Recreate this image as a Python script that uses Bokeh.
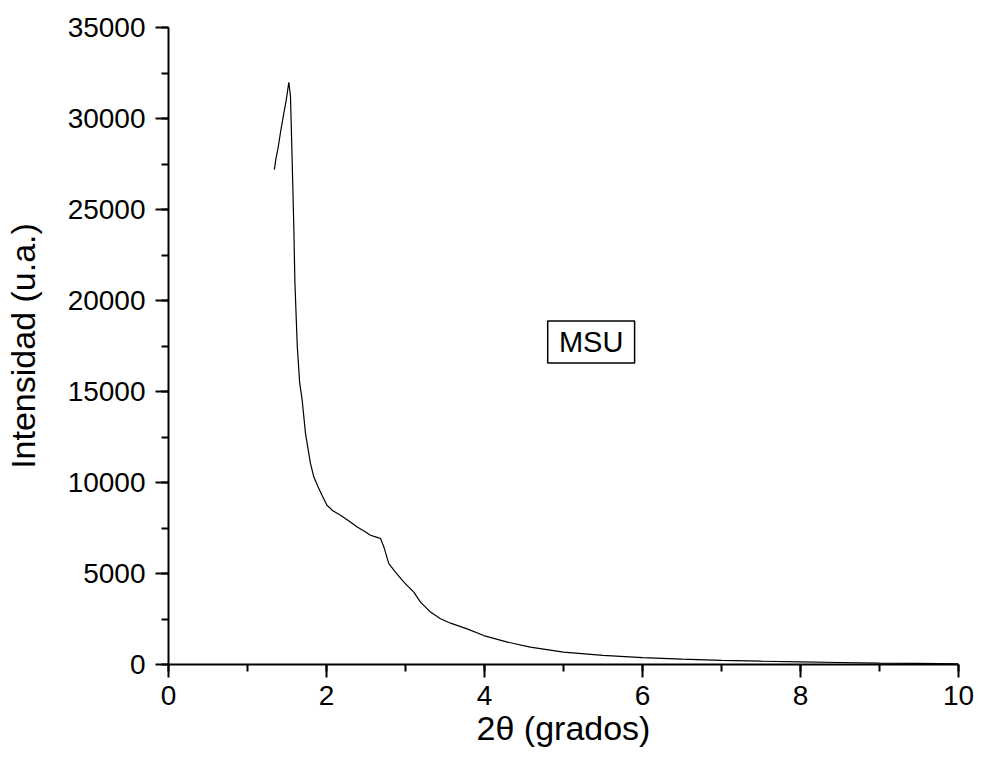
from bokeh.plotting import figure
from bokeh.models import Range1d, SingleIntervalTicker
from bokeh.embed import file_html
from bokeh.resources import INLINE
from bokeh.core.properties import value

# Data (2theta in degrees, intensity in a.u.)
two_theta = [1.34, 1.36, 1.385, 1.42, 1.46, 1.49, 1.523, 1.544, 1.565, 1.586,
             1.60, 1.63, 1.66, 1.692, 1.734, 1.797, 1.839, 1.90, 1.943, 2.006,
             2.08, 2.177, 2.28, 2.388, 2.47, 2.557, 2.63, 2.684, 2.726, 2.789,
             2.873, 2.979, 3.105, 3.19, 3.316, 3.443, 3.57, 3.78, 3.99, 4.29,
             4.58, 5.0, 5.5, 6.0, 6.5, 7.0, 7.5, 8.0, 8.5, 9.0, 9.5, 10.0]
intensity = [27190, 27800, 28330, 29300, 30300, 31000, 31990, 31230, 27740, 24070,
             21000, 17500, 15500, 14530, 12700, 11050, 10310, 9700, 9300, 8750,
             8450, 8200, 7900, 7560, 7350, 7100, 7000, 6920, 6460, 5540,
             5080, 4530, 3980, 3430, 2880, 2510, 2270, 1960, 1590, 1230,
             950, 680, 500, 380, 300, 230, 180, 140, 110, 80, 60, 40]

sample_label = "MSU"
x_title = "2\u03b8 (grados)"
y_title = "Intensidad (u.a.)"

FONT = "Liberation Sans"

p = figure(width=982, height=758, output_backend="svg", toolbar_location=None,
           x_range=Range1d(0, 10), y_range=Range1d(0, 35000),
           min_border_left=168, min_border_right=24, min_border_top=27,
           min_border_bottom=94)
p.outline_line_color = None
p.xgrid.visible = False
p.ygrid.visible = False
p.background_fill_color = "white"
p.border_fill_color = "white"

p.line(two_theta, intensity, line_color="black", line_width=1.2)

# annotation box
p.quad(left=[4.80], right=[5.90], bottom=[16566], top=[18877],
       fill_color="white", line_color="black", line_width=1.5)
p.text(x=[5.35], y=[17720], text=[sample_label], text_font=value(FONT),
       text_font_size="29px", text_align="center", text_baseline="middle",
       text_color="black")

p.xaxis.ticker = SingleIntervalTicker(interval=2, num_minor_ticks=2)
p.yaxis.ticker = SingleIntervalTicker(interval=5000, num_minor_ticks=2)

for ax in (p.xaxis[0], p.yaxis[0]):
    ax.axis_line_width = 2
    ax.axis_line_color = "black"
    ax.major_tick_line_width = 2
    ax.minor_tick_line_width = 2
    ax.major_tick_out = 13
    ax.major_tick_in = 0
    ax.minor_tick_out = 7
    ax.minor_tick_in = 0
    ax.major_label_text_font = FONT
    ax.major_label_text_font_size = "28px"
    ax.major_label_text_color = "black"
    ax.axis_label_text_font = FONT
    ax.axis_label_text_font_size = "34px"
    ax.axis_label_text_font_style = "normal"
    ax.axis_label_text_color = "black"

p.xaxis.axis_label = x_title
p.yaxis.axis_label = y_title
p.xaxis.major_label_standoff = 8
p.xaxis.axis_label_standoff = 1
p.yaxis.major_label_standoff = 10
p.yaxis.axis_label_standoff = 23

open("out.html", "w").write(file_html(p, INLINE))
